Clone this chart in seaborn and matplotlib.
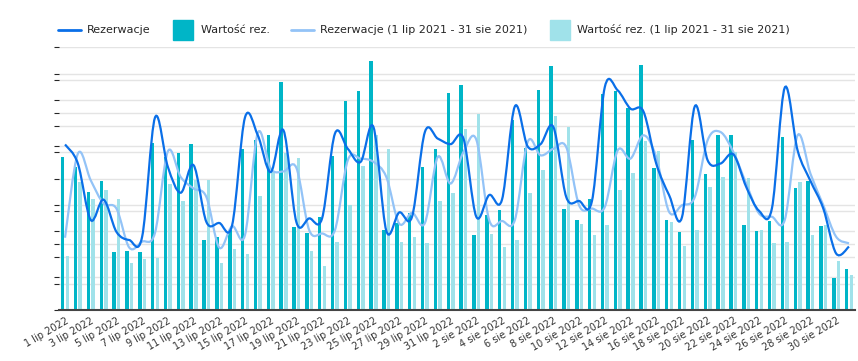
import numpy as np
import pandas as pd
import matplotlib
matplotlib.use("Agg")
import matplotlib.pyplot as plt
from matplotlib.path import Path
from matplotlib.patches import PathPatch
from matplotlib.lines import Line2D
import seaborn as sns

sns.set_style("white")
plt.rcParams["font.family"] = ["DejaVu Sans"]

# ---- data ----
days = [f"{d} lip 2022" for d in range(1, 32)] + [f"{d} sie 2022" for d in range(1, 32)]

wartosc_rez = [5.81, 5.43, 4.48, 4.90, 2.22, 2.24, 2.20, 6.37, 5.81, 5.96, 6.33, 2.66, 2.78, 3.04,
               6.11, 6.46, 6.67, 8.66, 3.15, 2.94, 3.53, 5.85, 7.95, 8.34, 9.49, 3.05, 3.30, 3.71,
               5.46, 6.14, 8.27, 8.57, 2.85, 3.61, 3.80, 7.25, 6.17, 8.37, 9.28, 3.86, 3.44, 4.24,
               8.22, 8.35, 7.68, 9.34, 5.39, 3.41, 2.96, 6.46, 5.16, 6.65, 6.68, 3.22, 2.99, 3.38,
               6.58, 4.65, 4.90, 3.19, 1.22, 1.56]

wartosc_rez_prev = [2.05, 4.86, 4.22, 4.57, 4.22, 1.78, 1.95, 1.97, 4.78, 4.13, 4.96, 4.96, 1.78, 2.32,
                    2.15, 4.35, 5.26, 5.99, 5.78, 2.25, 1.66, 2.58, 3.99, 5.49, 6.65, 6.11, 2.58, 2.77,
                    2.54, 4.13, 4.44, 6.90, 7.46, 2.90, 2.41, 2.65, 4.44, 5.33, 7.37, 6.97, 3.29, 2.86,
                    3.23, 4.56, 5.23, 6.42, 6.04, 3.34, 2.43, 3.06, 4.67, 5.06, 6.02, 5.01, 3.03, 2.54,
                    2.58, 4.86, 2.85, 3.22, 1.86, 1.33]

rezerwacje = [5.04, 4.46, 2.74, 3.36, 2.38, 2.13, 2.23, 5.86, 4.36, 3.57, 4.41, 2.68, 2.65, 2.58,
              5.86, 5.32, 4.20, 5.47, 2.68, 2.79, 2.79, 5.37, 4.91, 4.51, 5.57, 2.41, 2.97, 2.84,
              5.42, 5.22, 5.05, 5.22, 2.84, 3.50, 3.36, 6.20, 4.98, 5.05, 5.57, 3.44, 3.32, 3.32,
              6.79, 6.69, 6.13, 6.05, 4.46, 3.50, 2.82, 6.20, 4.56, 4.46, 4.74, 3.75, 3.02, 3.09,
              6.77, 4.86, 3.93, 3.09, 1.72, 1.93]

rezerwacje_prev = [2.20, 4.76, 3.95, 3.24, 3.09, 1.90, 2.08, 2.35, 4.83, 4.05, 3.70, 3.44, 1.90, 2.55,
                   2.28, 5.39, 4.31, 4.22, 4.33, 2.43, 2.33, 2.43, 4.56, 4.61, 4.51, 4.05, 2.63, 2.96,
                   2.65, 4.66, 3.85, 4.81, 5.19, 2.74, 2.71, 2.74, 5.12, 4.71, 4.91, 4.96, 3.19, 3.09,
                   3.14, 4.86, 4.61, 5.32, 4.66, 2.99, 3.19, 3.44, 5.17, 5.42, 4.81, 3.85, 2.94, 2.84,
                   2.74, 5.32, 4.15, 3.19, 2.23, 2.03]

labels = ["Rezerwacje", "Wartość rez.",
          "Rezerwacje (1 lip 2021 - 31 sie 2021)", "Wartość rez. (1 lip 2021 - 31 sie 2021)"]

C_BAR = "#00B5C7"
C_BAR_PREV = "#A0E2EA"
C_LINE = "#0A6FE8"
C_LINE_PREV = "#93C3F7"


def smooth_path(xs, ys):
    # catmull-rom -> bezier segments
    pts = np.column_stack([xs, ys]).astype(float)
    pad = np.vstack([pts[0], pts, pts[-1]])
    verts = [pts[0]]
    codes = [Path.MOVETO]
    for i in range(len(pts) - 1):
        p0, p1, p2, p3 = pad[i], pad[i + 1], pad[i + 2], pad[i + 3]
        verts += [p1 + (p2 - p0) / 6, p2 - (p3 - p1) / 6, p2]
        codes += [Path.CURVE4] * 3
    return Path(verts, codes)


bars = pd.DataFrame({
    "dzien": days * 2,
    "seria": [labels[1]] * len(days) + [labels[3]] * len(days),
    "wartosc": wartosc_rez + wartosc_rez_prev,
})

fig = plt.figure(figsize=(8.58, 3.61), dpi=100)
ax = fig.add_axes([0.0683, 0.1413, 0.9287, 0.7277])

sns.barplot(data=bars, x="dzien", y="wartosc", hue="seria", order=days,
            hue_order=[labels[1], labels[3]],
            palette={labels[1]: C_BAR, labels[3]: C_BAR_PREV},
            width=0.72, gap=0.25, saturation=1, errorbar=None,
            legend=False, linewidth=0, ax=ax)

ax.set_ylim(0, 10)
ax.set_xlim(-0.5, len(days) - 0.5)
grid_pos = np.unique(np.round(np.concatenate([np.arange(0, 11), np.arange(0, 9) * 1.25]), 3))
ax.set_yticks(grid_pos)
ax.yaxis.grid(True, color="#e4e4e4", lw=1)
ax.set_axisbelow(True)
ax.tick_params(axis="y", left=False, labelleft=False)
ax.set_xlabel("")
ax.set_ylabel("")
for s in ["top", "right", "left"]:
    ax.spines[s].set_visible(False)
ax.spines["bottom"].set_color("#444444")
ax.spines["bottom"].set_linewidth(1.5)

ax.set_xticks(range(0, len(days), 2))
ax.set_xticklabels(days[::2], rotation=30, ha="right", rotation_mode="anchor",
                   fontsize=7, color="#333333")
ax.tick_params(axis="x", length=0, pad=4)

# lines on their own scale
ax2 = ax.twinx()
ax2.set_ylim(0, 8)
ax2.set_yticks([])
for s in ax2.spines.values():
    s.set_visible(False)
x = np.arange(len(days))
ax2.add_patch(PathPatch(smooth_path(x, rezerwacje_prev), fill=False, ec=C_LINE_PREV, lw=1.6))
ax2.add_patch(PathPatch(smooth_path(x, rezerwacje), fill=False, ec=C_LINE, lw=1.6))

handles = [
    Line2D([], [], color=C_LINE, lw=2),
    Line2D([], [], color=C_BAR, marker="s", markersize=14, ls="none"),
    Line2D([], [], color=C_LINE_PREV, lw=2),
    Line2D([], [], color=C_BAR_PREV, marker="s", markersize=14, ls="none"),
]
fig.legend(handles, labels, loc="center left", bbox_to_anchor=(0.068, 0.917), ncol=4,
           frameon=False, fontsize=8, handlelength=2.05, handletextpad=0.55,
           columnspacing=1.9, borderaxespad=0, borderpad=0)

fig.savefig("out.png", dpi=100)
